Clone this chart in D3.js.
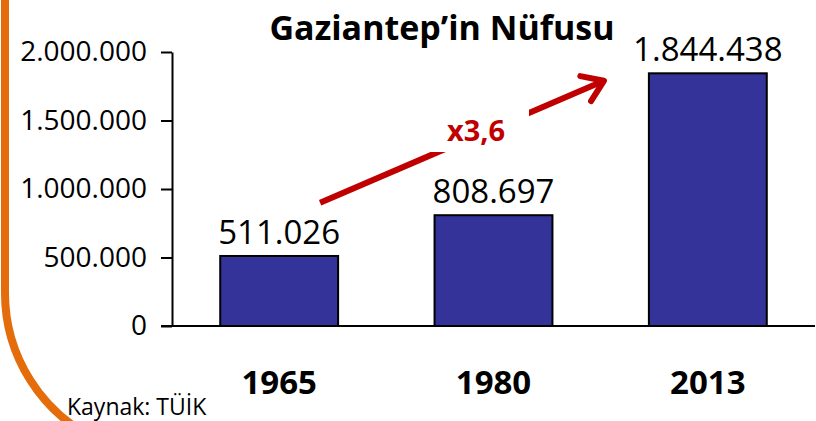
<!DOCTYPE html>
<html>
<head>
<meta charset="utf-8">
<script src="https://cdn.jsdelivr.net/npm/d3@7"></script>
<style>
body { margin: 0; background: #fff; }
svg { display: block; font-family: "Open Sans", sans-serif; }
</style>
</head>
<body>
<svg id="chart" width="816" height="421"></svg>
<script>
// data
var years  = ["1965", "1980", "2013"];
var values = [511026, 808697, 1844438];
var yTicks = [0, 500000, 1000000, 1500000, 2000000];
var title  = "Gaziantep\u2019in N\u00fcfusu";
var growth = "x3,6";
var source = "Kaynak: T\u00dc\u0130K";

var svg = d3.select("#chart");

var trLocale = d3.formatLocale({decimal: ",", thousands: ".", grouping: [3], currency: ["", ""]});
var fmt = trLocale.format(",d");

var x = d3.scaleBand()
        .domain(years)
        .range([172, 815])
        .paddingInner(0.45)
        .paddingOuter(0.225);

var y = d3.scaleLinear()
        .domain([0, 2000000])
        .range([326, 52]);

// orange decoration on the left
svg.append("path")
        .attr("d", "M5,-5 L5,293 A163,163 0 0 0 97.6,440")
        .attr("fill", "none")
        .attr("stroke", "#e46c0a")
        .attr("stroke-width", 8);

// title
svg.append("text")
        .attr("x", 442)
        .attr("y", 40)
        .attr("text-anchor", "middle")
        .attr("font-weight", "bold")
        .attr("font-size", 34)
        .text(title);

// y axis
var yAxis = svg.append("g")
        .attr("transform", "translate(172,0)")
        .call(d3.axisLeft(y).tickValues(yTicks).tickFormat(fmt).tickSize(11).tickSizeOuter(0).tickPadding(14));
yAxis.select(".domain").attr("stroke", "#000").attr("stroke-width", 2);
yAxis.selectAll(".tick line").attr("stroke", "#000").attr("stroke-width", 2);
yAxis.selectAll(".tick text")
        .attr("font-family", "Open Sans")
        .attr("font-size", 28)
        .attr("fill", "#000");

// bars
svg.selectAll(".bar")
        .data(values)
        .enter().append("rect")
        .attr("class", "bar")
        .attr("x", function(d, i) { return x(years[i]); })
        .attr("y", function(d) { return y(d); })
        .attr("width", x.bandwidth())
        .attr("height", function(d) { return y(0) - y(d); })
        .attr("fill", "#333399")
        .attr("stroke", "#000")
        .attr("stroke-width", 2);

// x axis line
svg.append("line")
        .attr("x1", 161).attr("x2", 815)
        .attr("y1", y(0)).attr("y2", y(0))
        .attr("stroke", "#000")
        .attr("stroke-width", 2);

// year labels
var xAxis = svg.append("g")
        .attr("transform", "translate(0," + y(0) + ")")
        .call(d3.axisBottom(x).tickSize(0).tickPadding(0));
xAxis.select(".domain").remove();
xAxis.selectAll(".tick text")
        .attr("dy", null)
        .attr("y", 68)
        .attr("font-family", "Open Sans")
        .attr("font-weight", "bold")
        .attr("font-size", 33)
        .attr("fill", "#000");

// value labels
svg.selectAll(".val")
        .data(values)
        .enter().append("text")
        .attr("class", "val")
        .attr("x", function(d, i) { return x(years[i]) + x.bandwidth() / 2; })
        .attr("y", function(d) { return y(d) - 12; })
        .attr("text-anchor", "middle")
        .attr("font-size", 33)
        .text(function(d) { return fmt(d); });

// growth arrow
var ax0 = x("1965") + x.bandwidth() + -18, ay0 = y(900000);
var ax1 = x("2013") - 45, ay1 = y(1790000);
var ang = Math.atan2(ay1 - ay0, ax1 - ax0);
var red = "#c00000";

svg.append("line")
        .attr("x1", ax0).attr("y1", ay0)
        .attr("x2", ax1).attr("y2", ay1)
        .attr("stroke", red)
        .attr("stroke-width", 6);

var head = 24, spread = 0.6;
svg.append("path")
        .attr("d", "M" + (ax1 - head * Math.cos(ang - spread)) + "," + (ay1 - head * Math.sin(ang - spread)) +
                   "L" + ax1 + "," + ay1 +
                   "L" + (ax1 - head * Math.cos(ang + spread)) + "," + (ay1 - head * Math.sin(ang + spread)))
        .attr("fill", "none")
        .attr("stroke", red)
        .attr("stroke-width", 6)
        .attr("stroke-linecap", "round")
        .attr("stroke-linejoin", "round");

// white box behind the growth label
svg.append("rect")
        .attr("x", 424).attr("y", 108)
        .attr("width", 105).attr("height", 44)
        .attr("fill", "#fff");

svg.append("text")
        .attr("x", 476)
        .attr("y", 141)
        .attr("text-anchor", "middle")
        .attr("font-weight", "bold")
        .attr("font-size", 29)
        .attr("fill", red)
        .text(growth);

// source
svg.append("text")
        .attr("x", 67)
        .attr("y", 415)
        .attr("font-size", 23)
        .text(source);
</script>
</body>
</html>
